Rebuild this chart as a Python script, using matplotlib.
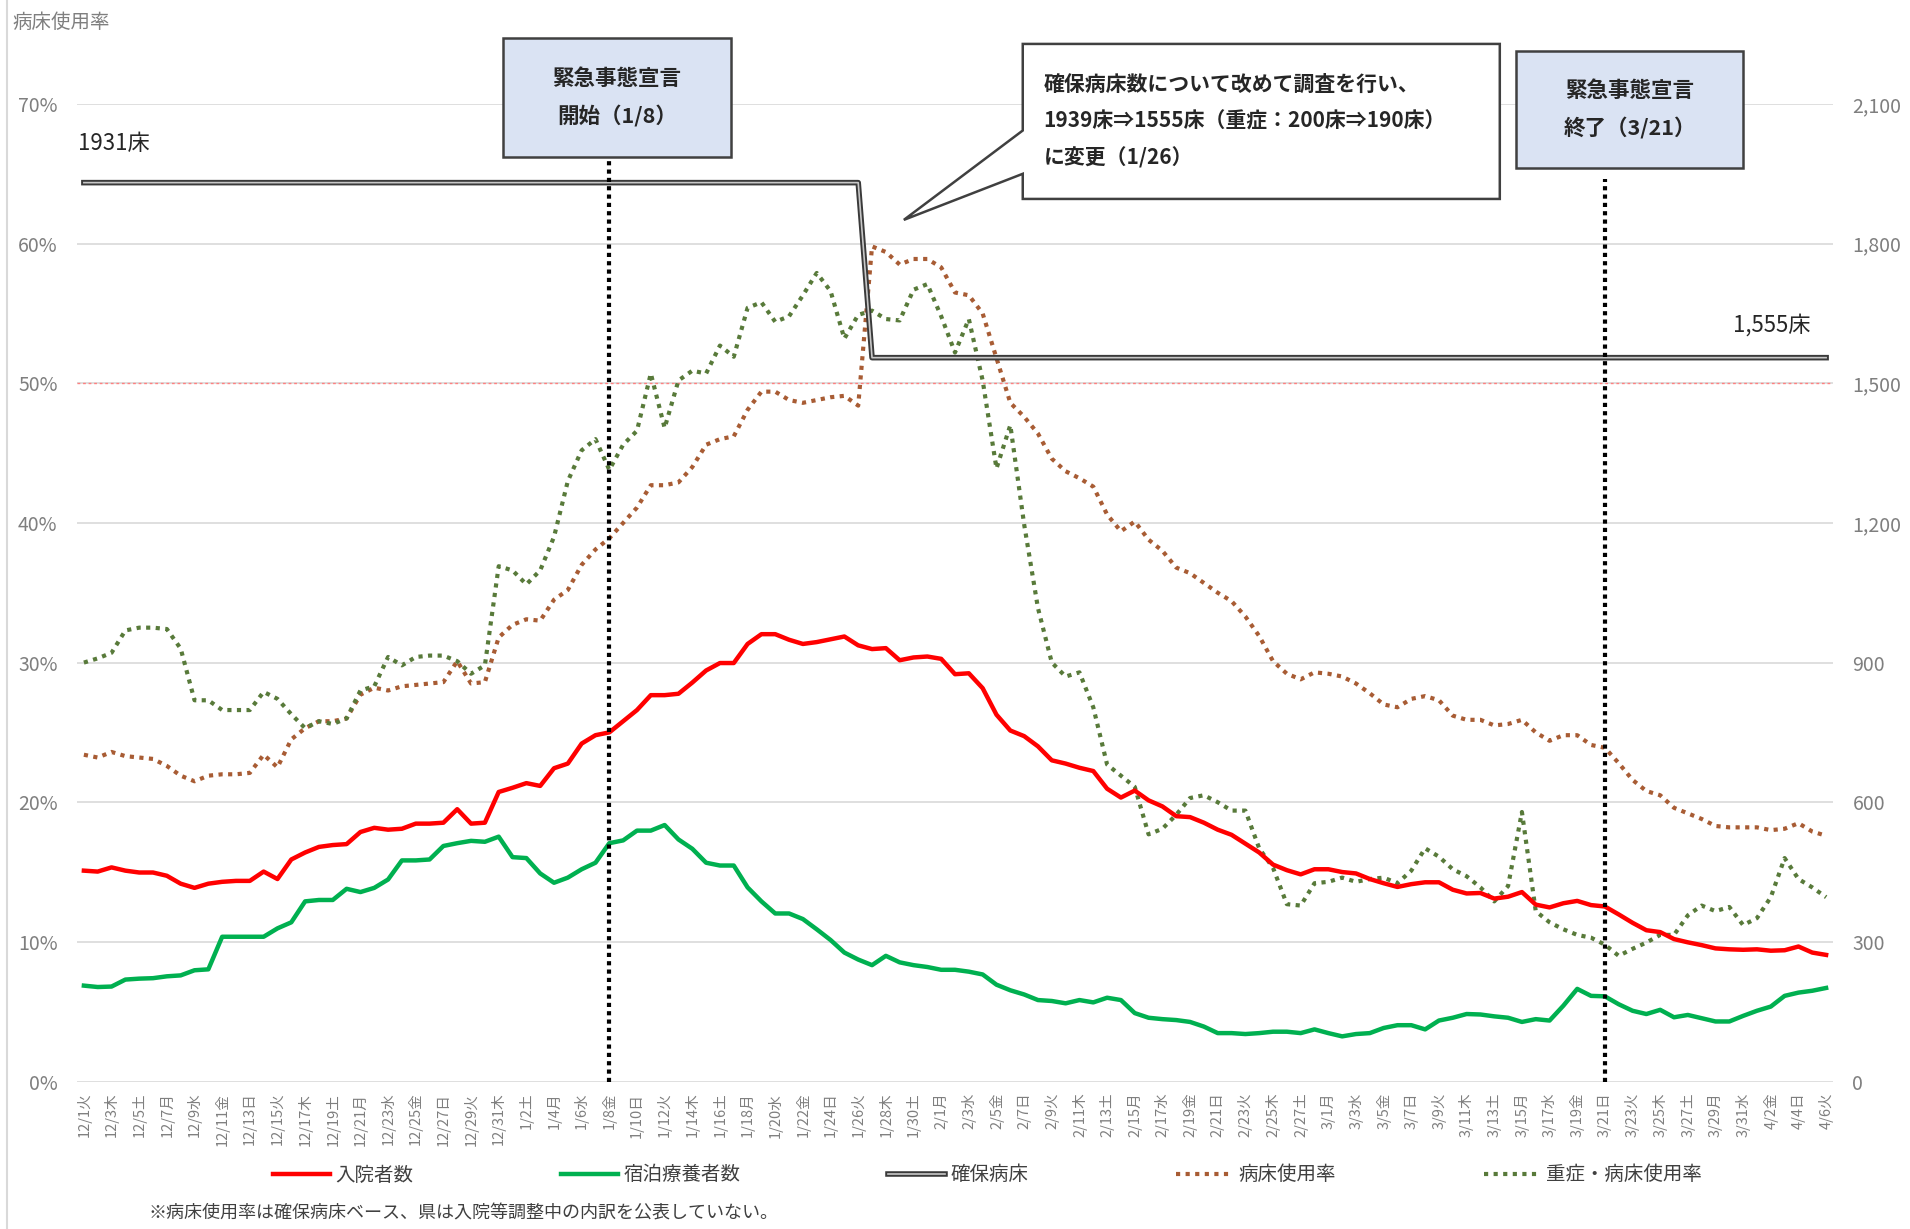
import pandas as pd
import matplotlib.pyplot as plt
import matplotlib.patheffects as pe
from matplotlib.patches import Polygon, Rectangle
from matplotlib.lines import Line2D

plt.rcParams['font.family'] = ['Noto Sans CJK JP', 'DejaVu Sans']

#%% datos
fechas = pd.date_range('2020-12-01', '2021-04-06')
youbi = ['月', '火', '水', '木', '金', '土', '日']
etiquetas = [f"{f.month}/{f.day}{youbi[f.weekday()]}" for f in fechas]

# 入院者数 (eje derecho)
nyuin = [453, 451, 460, 453, 449, 449, 442, 425, 416, 425,
         429, 431, 431, 451, 435, 477, 492, 504, 508, 510,
         536, 545, 541, 543, 554, 554, 556, 585, 554, 556,
         622, 631, 641, 635, 673, 683, 726, 744, 750, 774,
         798, 830, 830, 833, 857, 883, 899, 899, 940, 961,
         961, 949, 940, 944, 950, 956, 937, 929, 931, 905,
         911, 913, 908, 875, 877, 845, 788, 754, 742, 720,
         690, 683, 674, 667, 629, 610, 625, 604, 591, 570,
         568, 556, 541, 530, 511, 492, 466, 454, 445, 456,
         456, 450, 447, 435, 426, 418, 424, 428, 428, 412,
         404, 405, 393, 397, 407, 380, 374, 383, 388, 379,
         376, 359, 341, 325, 321, 306, 299, 293, 286, 284,
         283, 284, 281, 282, 290, 277, 272]

# 宿泊療養者数 (eje derecho)
shukuhaku = [206, 203, 204, 219, 221, 222, 226, 228, 239, 241,
             311, 311, 311, 311, 329, 342, 387, 390, 390, 414,
             407, 416, 434, 475, 475, 477, 506, 512, 517, 515,
             526, 482, 480, 447, 427, 438, 456, 470, 512, 518,
             539, 539, 551, 520, 500, 470, 464, 464, 417, 387,
             361, 361, 349, 327, 304, 277, 262, 250, 270, 256,
             250, 246, 240, 240, 236, 230, 208, 196, 187, 175,
             173, 168, 175, 170, 180, 175, 147, 137, 134, 132,
             128, 118, 104, 104, 102, 104, 107, 107, 104, 112,
             104, 97, 102, 104, 115, 121, 121, 112, 131, 137,
             145, 144, 140, 137, 128, 134, 131, 163, 199, 184,
             183, 166, 152, 145, 154, 138, 143, 136, 129, 129,
             141, 152, 161, 184, 191, 195, 201]

# 確保病床
kakuho = [1931] * 57 + [1555] * 70

# 病床使用率 (%)
shiyoritsu = [23.4, 23.2, 23.6, 23.3, 23.2, 23.1, 22.6, 21.9, 21.5, 21.9,
              22.0, 22.0, 22.1, 23.4, 22.5, 24.5, 25.3, 25.8, 25.8, 26.0,
              27.7, 28.2, 28.0, 28.3, 28.4, 28.5, 28.6, 30.1, 28.5, 28.6,
              31.8, 32.7, 33.1, 33.0, 34.5, 35.2, 37.0, 38.1, 38.9, 40.0,
              41.1, 42.7, 42.7, 42.9, 44.0, 45.6, 46.0, 46.2, 48.1, 49.4,
              49.4, 48.8, 48.6, 48.8, 49.0, 49.1, 48.4, 59.8, 59.4, 58.5,
              58.9, 58.9, 58.3, 56.5, 56.3, 55.0, 51.8, 48.6, 47.6, 46.4,
              44.6, 43.7, 43.2, 42.6, 40.6, 39.4, 40.1, 38.8, 38.0, 36.8,
              36.4, 35.7, 35.0, 34.4, 33.3, 31.9, 30.1, 29.2, 28.8, 29.3,
              29.2, 29.0, 28.5, 27.8, 27.0, 26.8, 27.4, 27.6, 27.3, 26.2,
              25.9, 25.9, 25.5, 25.6, 25.9, 25.0, 24.4, 24.8, 24.8, 24.1,
              23.9, 22.8, 21.6, 20.8, 20.5, 19.6, 19.2, 18.8, 18.3, 18.2,
              18.2, 18.2, 18.0, 18.1, 18.5, 17.9, 17.6]

# 重症・病床使用率 (%)
jusho = [30.0, 30.3, 30.7, 32.3, 32.5, 32.5, 32.4, 31.0, 27.3, 27.3,
         26.6, 26.6, 26.6, 27.9, 27.4, 26.3, 25.3, 25.8, 25.6, 26.0,
         28.0, 28.3, 30.4, 29.8, 30.4, 30.5, 30.5, 30.1, 29.2, 29.8,
         36.9, 36.6, 35.6, 36.6, 39.0, 43.0, 45.2, 46.0, 43.8, 45.6,
         46.6, 50.7, 46.8, 50.2, 50.9, 50.7, 52.7, 51.9, 55.4, 55.8,
         54.4, 54.8, 56.3, 57.9, 56.6, 53.2, 54.9, 55.2, 54.6, 54.5,
         56.7, 57.1, 54.8, 52.2, 54.6, 50.2, 43.9, 47.0, 39.9, 33.9,
         30.0, 29.0, 29.3, 26.8, 22.7, 21.9, 21.1, 17.7, 18.1, 19.1,
         20.3, 20.5, 20.0, 19.4, 19.4, 16.7, 15.3, 12.7, 12.6, 14.2,
         14.3, 14.6, 14.3, 14.5, 14.6, 14.2, 15.1, 16.7, 16.1, 15.2,
         14.7, 13.9, 12.9, 14.0, 19.3, 12.2, 11.4, 10.9, 10.5, 10.3,
         9.8, 9.0, 9.5, 9.95, 10.5, 10.5, 11.9, 12.6, 12.2, 12.5,
         11.2, 11.7, 13.2, 16.0, 14.5, 13.9, 13.2]

x = list(range(len(fechas)))
i_inicio = 38   # 1/8
i_fin = 110     # 3/21

#%% figura
fig = plt.figure(figsize=(19.1, 12.29), dpi=100)
ax = fig.add_axes([0.0403, 0.120, 0.9194, 0.7954])
ax2 = ax.twinx()

gris = '#7f7f7f'
ax.set_xlim(-0.5, 126.5)
ax.set_ylim(0, 70)
ax.set_yticks(range(0, 71, 10))
ax.set_yticklabels([f"{v}%" for v in range(0, 71, 10)])
ax.yaxis.grid(True, color='#d9d9d9', lw=1.2)
ax.set_axisbelow(True)
ax2.set_ylim(0, 2100)
ax2.set_yticks(range(0, 2101, 300))
ax2.set_yticklabels([f"{v:,}" for v in range(0, 2101, 300)])
for a in (ax, ax2):
    for s in a.spines.values():
        s.set_visible(False)
ax.tick_params(axis='y', length=0, pad=14, labelsize=14, labelcolor=gris)
ax2.tick_params(axis='y', length=0, pad=14, labelsize=14, labelcolor=gris)
ax.set_xticks(x[::2])
ax.set_xticklabels(etiquetas[::2], rotation=90, ha='center', va='top')
ax.tick_params(axis='x', length=0, pad=8, labelsize=10.5, labelcolor=gris)

# linea 50%
ax.axhline(50, color='#ff8080', lw=1, ls=(0, (2, 2)))

# series (porcentaje)
ax.plot(x, shiyoritsu, color='#a85c34', lw=3, ls=(0, (1, 1.3)), label='病床使用率')
ax.plot(x, jusho, color='#587a3a', lw=3, ls=(0, (1, 1.3)), label='重症・病床使用率')

# series (personas)
ax2.plot(x, nyuin, color='#ff0000', lw=3.2, label='入院者数')
ax2.plot(x, shukuhaku, color='#00b050', lw=3.2, label='宿泊療養者数')
ax2.plot(x, kakuho, color='#c8c8c8', lw=1.2, label='確保病床',
         path_effects=[pe.Stroke(linewidth=4, foreground='#3a3a3a'), pe.Normal()])

ax2.text(-0.4, 67.2 * 30, '1931床', fontsize=16, va='center', ha='left', color='#262626')
ax2.text(124.9, 54.2 * 30, '1,555床', fontsize=16, va='center', ha='right', color='#262626')

# lineas de declaracion
ax2.plot([i_inicio, i_inicio], [0, 66.0 * 30], color='black', lw=3, ls=(0, (1, 1)))
ax2.plot([i_fin, i_fin], [0, 64.6 * 30], color='black', lw=3, ls=(0, (1, 1)))

# cuadros
def cuadro(x0, x1, y0, y1, texto):
    ax2.add_patch(Rectangle((x0, y0 * 30), x1 - x0, (y1 - y0) * 30, facecolor='#dae3f3',
                            edgecolor='#404040', lw=1.8, clip_on=False, zorder=5))
    ax2.text((x0 + x1) / 2, (y0 + y1) / 2 * 30, texto, ha='center', va='center',
             fontsize=15.5, fontweight='bold', color='#262626', linespacing=1.9,
             zorder=6, clip_on=False)

cuadro(30.3, 46.8, 66.2, 74.7, '緊急事態宣言\n開始（1/8）')
cuadro(103.6, 120.0, 65.4, 73.8, '緊急事態宣言\n終了（3/21）')

# globo 1/26
bx0, bx1, by0, by1 = 67.9, 102.4, 63.2, 74.3
globo = [(bx0, by1), (bx1, by1), (bx1, by0), (bx0, by0), (bx0, 65.0),
         (59.3, 61.7), (bx0, 68.1)]
ax2.add_patch(Polygon([(px, py * 30) for px, py in globo], closed=True, facecolor='white',
                      edgecolor='#404040', lw=1.8, clip_on=False, zorder=5))
ax2.text(69.4, (by0 + by1) / 2 * 30,
         '確保病床数について改めて調査を行い、\n1939床⇒1555床（重症：200床⇒190床）\nに変更（1/26）',
         ha='left', va='center', fontsize=15, fontweight='bold', color='#262626',
         linespacing=1.9, zorder=6, clip_on=False)

# textos de figura
fig.text(12 / 1910, 1 - 22 / 1229, '病床使用率', fontsize=14, color=gris, va='center')
fig.text(148 / 1910, 1 - 1214 / 1229, '※病床使用率は確保病床ベース、県は入院等調整中の内訳を公表していない。',
         fontsize=13, color='#404040', va='center')
fig.add_artist(Line2D([7 / 1910, 7 / 1910], [0, 1], color='#d9d9d9', lw=1.5))

# leyenda
h1, l1 = ax.get_legend_handles_labels()
h2, l2 = ax2.get_legend_handles_labels()
handles = h2 + h1
labels = l2 + l1
fig.legend(handles, labels, loc='center', bbox_to_anchor=(0.517, 1 - 1175 / 1229), ncol=5,
           frameon=False, fontsize=14, handlelength=2.9, handletextpad=0.3,
           columnspacing=7.6, labelcolor='#404040')

plt.savefig('out.png', dpi=100)
